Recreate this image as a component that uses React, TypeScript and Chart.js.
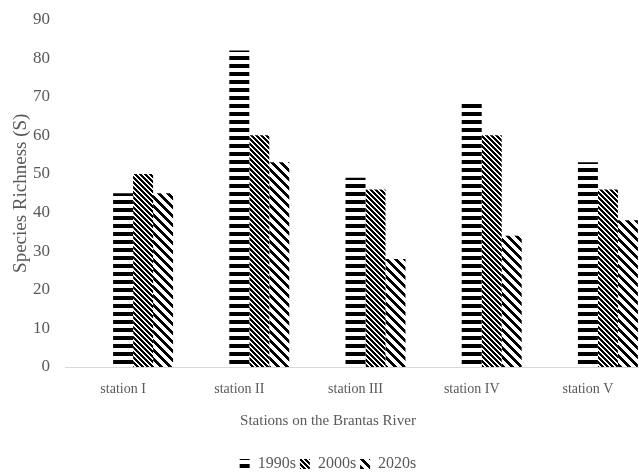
import React, { useEffect, useRef } from "react";
import { Chart, registerables } from "chart.js";

Chart.register(...registerables);

const categories = ["station I", "station II", "station III", "station IV", "station V"];
const seriesLabels = ["1990s", "2000s", "2020s"];
const values1990s = [45, 82, 49, 69, 53];
const values2000s = [50, 60, 46, 60, 46];
const values2020s = [45, 53, 28, 34, 38];
const emptySeries: (number | null)[] = [null, null, null, null, null];
const yMin = 0;
const yMax = 90;
const yStep = 10;
const yTitle = "Species Richness (S)";
const xTitle = "Stations on the Brantas River";

const FONT = "'Liberation Serif', 'Times New Roman', Times, serif";
const TEXT = "#595959";

function makePattern(kind: "h" | "d" | "w"): CanvasPattern | string {
  const s = kind === "h" ? 8 : kind === "d" ? 5 : 9;
  const c = document.createElement("canvas");
  c.width = s;
  c.height = s;
  const ctx = c.getContext("2d");
  if (!ctx) return "#000";
  ctx.fillStyle = "#ffffff";
  ctx.fillRect(0, 0, s, s);
  ctx.fillStyle = "#000000";
  for (let y = 0; y < s; y++) {
    for (let x = 0; x < s; x++) {
      const m = (((x - y) % s) + s) % s;
      let on = false;
      if (kind === "h") on = y < 4;
      else if (kind === "d") on = m < 3;
      else on = m < 4;
      if (on) ctx.fillRect(x, y, 1, 1);
    }
  }
  const p = ctx.createPattern(c, "repeat");
  return p || "#000";
}

export default function App() {
  const ref = useRef<HTMLCanvasElement>(null);

  useEffect(() => {
    if (!ref.current) return;
    const pH = makePattern("h");
    const pD = makePattern("d");
    const pW = makePattern("w");
    const chart = new Chart(ref.current, {
      type: "bar",
      data: {
        labels: categories,
        datasets: [
          { label: "", data: emptySeries, backgroundColor: "#fff", borderWidth: 0 },
          { label: "", data: emptySeries, backgroundColor: "#fff", borderWidth: 0 },
          { label: seriesLabels[0], data: values1990s, backgroundColor: pH as any, borderWidth: 0 },
          { label: seriesLabels[1], data: values2000s, backgroundColor: pD as any, borderWidth: 0 },
          { label: seriesLabels[2], data: values2020s, backgroundColor: pW as any, borderWidth: 0 },
        ],
      },
      options: {
        responsive: false,
        animation: false,
        devicePixelRatio: 1,
        layout: { padding: { left: 10, right: 14, top: 19.5, bottom: 0 } },
        datasets: { bar: { categoryPercentage: 100 / 116.25, barPercentage: 1 } },
        scales: {
          x: {
            grid: { display: false, drawTicks: false },
            border: { display: true, color: "#d9d9d9", width: 1 },
            ticks: { font: { family: FONT, size: 14 }, color: TEXT, padding: 14 },
            afterFit: (s: any) => {
              s.height = 45;
            },
          },
          y: {
            min: yMin,
            max: yMax,
            ticks: { stepSize: yStep, font: { family: FONT, size: 17 }, color: TEXT, padding: 15 },
            grid: { display: false, drawTicks: false },
            border: { display: false },
            title: {
              display: true,
              text: yTitle,
              font: { family: FONT, size: 19 },
              color: TEXT,
              padding: 0,
            },
            afterFit: (s: any) => {
              s.width = 55;
              s.paddingTop = 0;
              s.paddingBottom = 0;
            },
          },
        },
        plugins: {
          legend: {
            position: "bottom",
            labels: {
              boxWidth: 10,
              boxHeight: 10,
              padding: 4,
              font: { family: FONT, size: 16 },
              color: TEXT,
              filter: (item: any) => item.text !== "",
            },
          },
          title: {
            display: true,
            position: "bottom",
            text: xTitle,
            font: { family: FONT, size: 15, weight: "normal" },
            color: TEXT,
            padding: { top: 0, bottom: 22 },
            weight: 500,
          } as any,
          tooltip: { enabled: false },
        },
      },
    });
    return () => chart.destroy();
  }, []);

  return (
    <div
      style={{
        position: "fixed",
        left: 0,
        top: 0,
        width: 639,
        height: 476,
        overflow: "hidden",
        background: "#ffffff",
      }}
    >
      <canvas ref={ref} width={660} height={482} style={{ display: "block", width: 660, height: 482 }} />
    </div>
  );
}
